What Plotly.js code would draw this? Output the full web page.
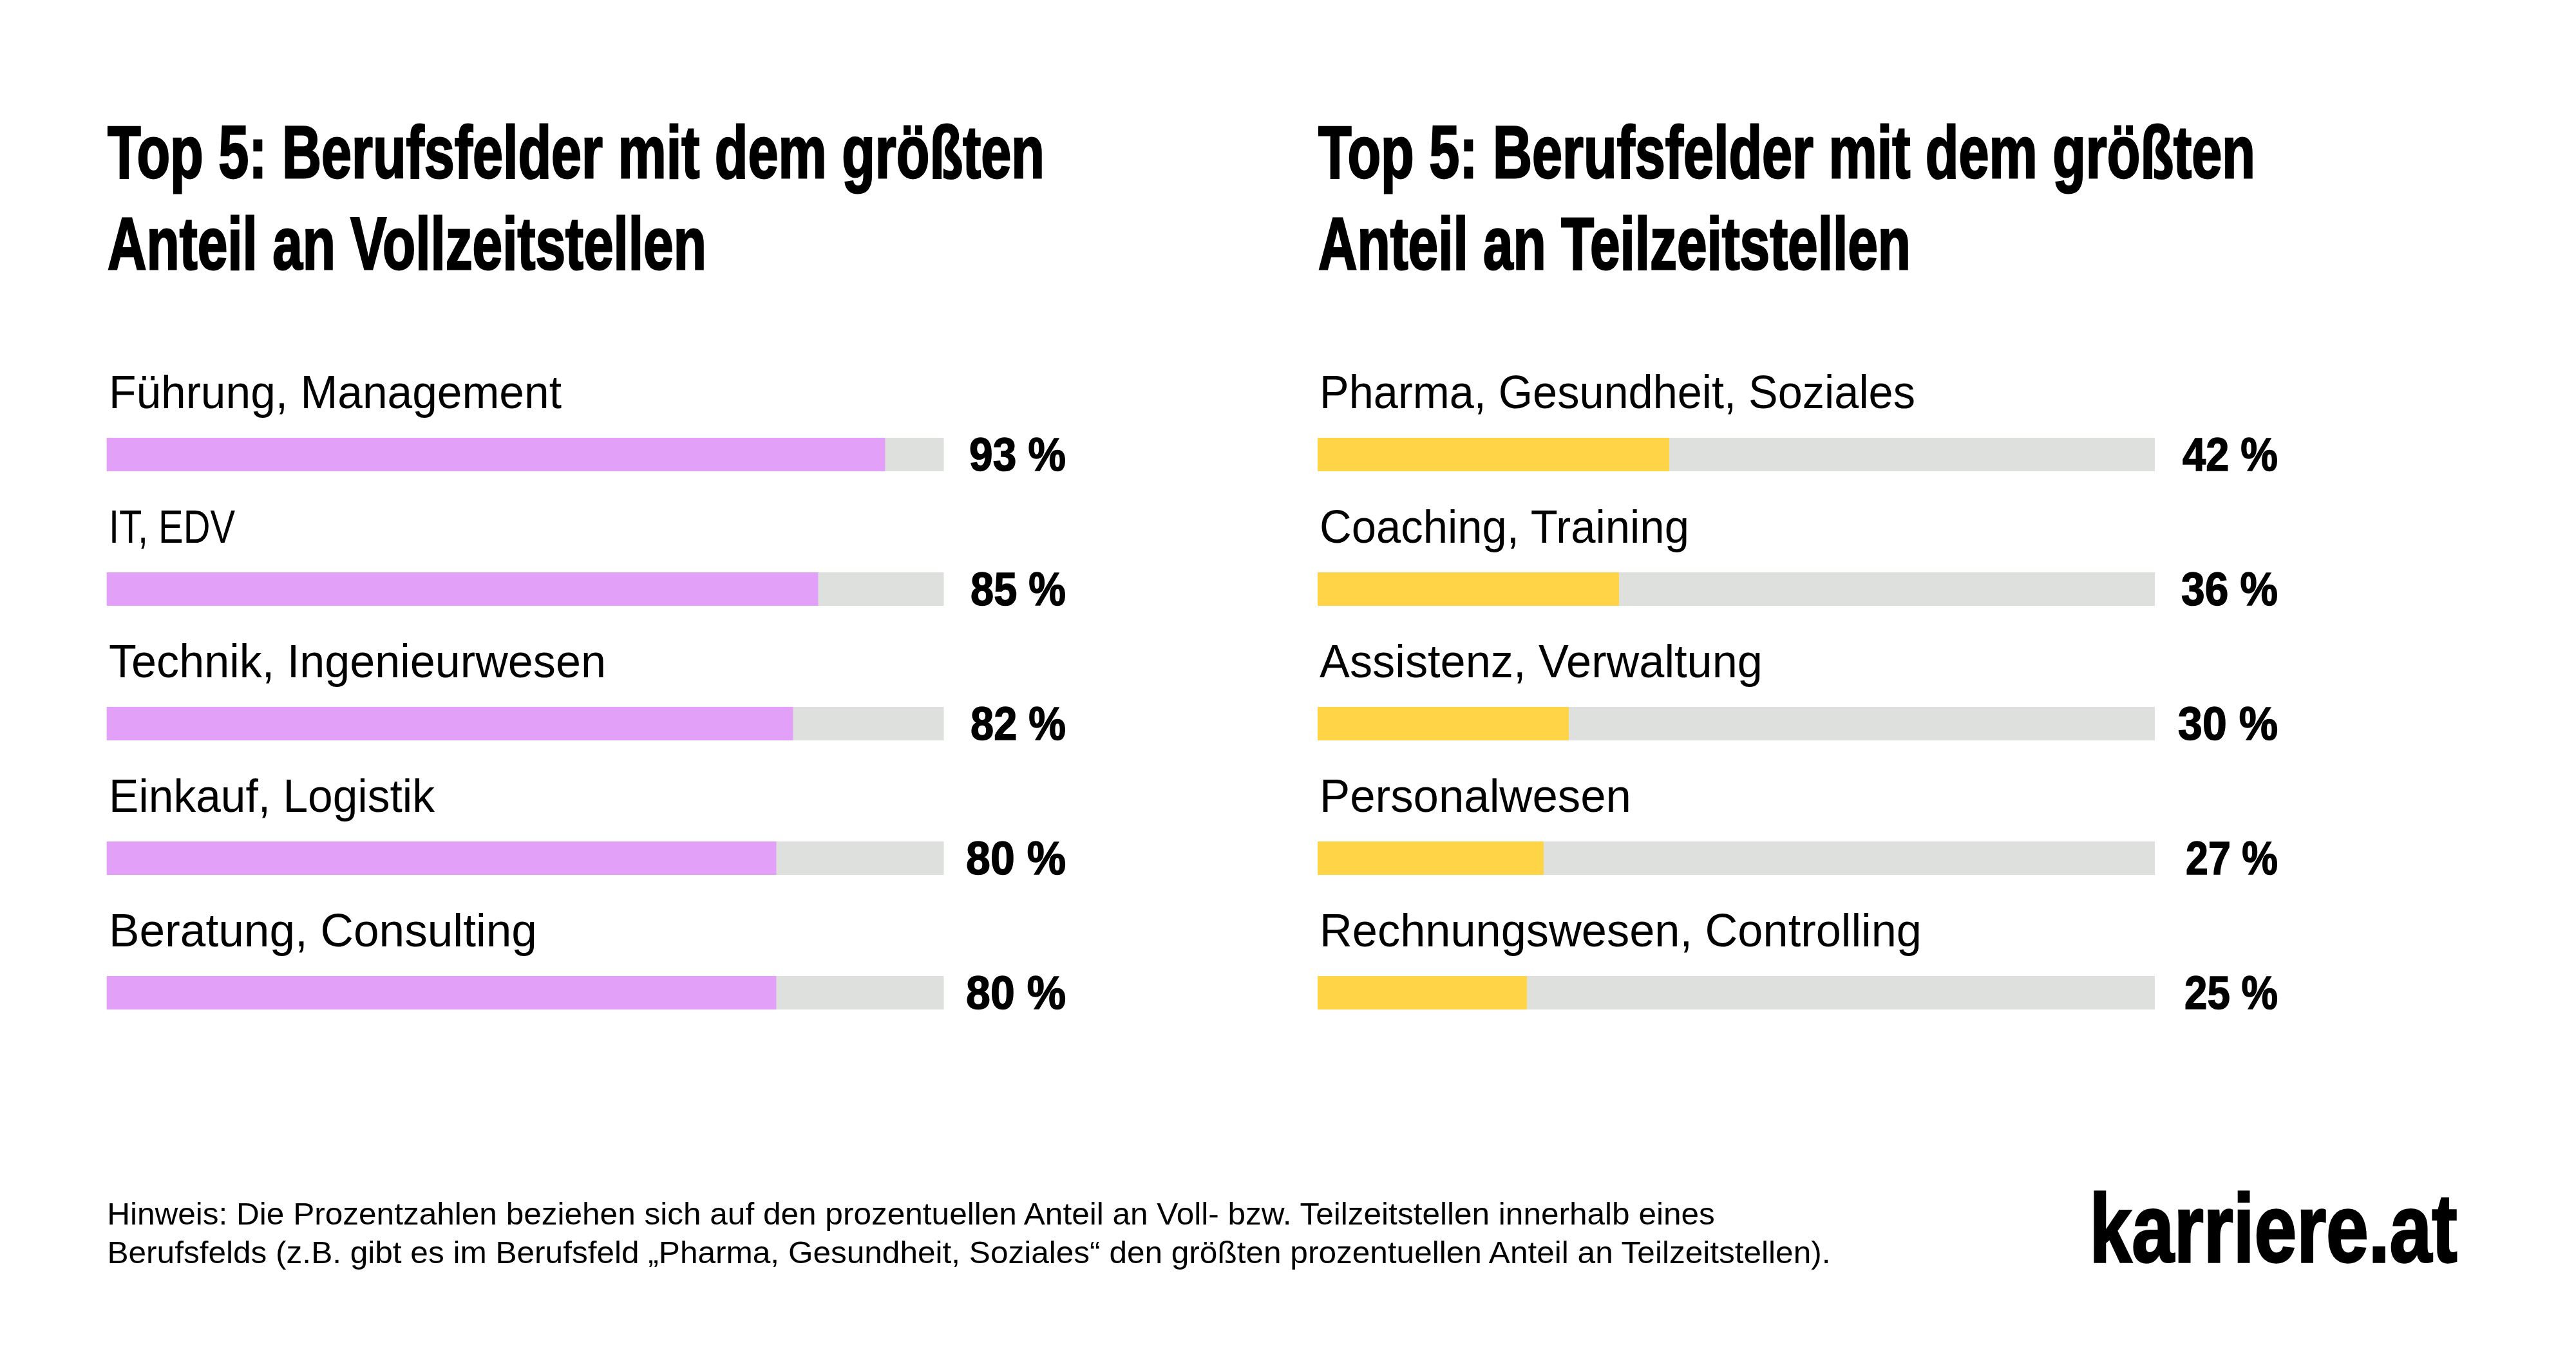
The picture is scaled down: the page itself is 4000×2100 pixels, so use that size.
<!DOCTYPE html>
<html><head><meta charset="utf-8"><script src="https://cdn.plot.ly/plotly-3.0.1.min.js"></script>
<style>html,body{margin:0;padding:0;background:#fff}</style></head><body><div id="c" style="width:4000px;height:2100px"></div>
<script>
const catsFull=["Führung, Management","IT, EDV","Technik, Ingenieurwesen","Einkauf, Logistik","Beratung, Consulting"];
const valsFull=[93,85,82,80,80];
const catsPart=["Pharma, Gesundheit, Soziales","Coaching, Training","Assistenz, Verwaltung","Personalwesen","Rechnungswesen, Controlling"];
const valsPart=[42,36,30,27,25];
const titleCommon="Top 5: Berufsfelder mit dem größten";
const titleFull="Anteil an Vollzeitstellen";
const titlePart="Anteil an Teilzeitstellen";
const noteLines=["Hinweis: Die Prozentzahlen beziehen sich auf den prozentuellen Anteil an Voll- bzw. Teilzeitstellen innerhalb eines","Berufsfelds (z.B. gibt es im Berufsfeld „Pharma, Gesundheit, Soziales“ den größten prozentuellen Anteil an Teilzeitstellen)."];
const brand="karriere.at";
// text fit widths in px (style only)
const labelFitFull=[703,196,772,507,665];
const labelFitPart=[925,574,688,484,935];
const valueFitFull=[150,148,148,155,155];
const valueFitPart=[148,150,155,143,145];
const W=4000,H=2100,pink="#E3A0F8",yellow="#FFD447",grey="#DEE0DD";
const pitch=209,plotTop=706-pitch,plotBot=plotTop+5.5*pitch;
const rows=[0,1,2,3,4];
const traces=[],ann=[],fits=[];
function add(a,fit){ann.push(a);fits.push(fit);}
function panel(cats,vals,col,xa,ya,line2,left,lf,vf,line2w,valX){
  traces.push({type:"bar",orientation:"h",x:vals.map(()=>100),y:rows,xaxis:xa,yaxis:ya,width:0.249,marker:{color:grey},hoverinfo:"skip",showlegend:false});
  traces.push({type:"bar",orientation:"h",x:vals,y:rows,xaxis:xa,yaxis:ya,width:0.249,marker:{color:col},hoverinfo:"skip",showlegend:false});
  cats.forEach((c,i)=>{
    add({xref:xa,yref:ya,x:0,y:i,xanchor:"left",yanchor:"middle",xshift:1,yshift:97,text:c,showarrow:false,font:{family:"Liberation Sans",size:72,color:"#000"}},{w:lf[i],a:"l"});
    add({xref:xa,yref:ya,x:valX,y:i,xanchor:"right",yanchor:"middle",text:vals[i]+" %",showarrow:false,font:{family:"Liberation Sans",weight:700,size:72,color:"#000"}},{w:vf[i],a:"r",s:1.5});
  });
  const tf={family:"Liberation Sans",weight:700,size:115,color:"#000"};
  add({xref:"paper",yref:"paper",x:left/W,y:1-236/H,xanchor:"left",yanchor:"middle",text:titleCommon,showarrow:false,font:tf},{w:1455,a:"l",s:2.5});
  add({xref:"paper",yref:"paper",x:left/W,y:1-378/H,xanchor:"left",yanchor:"middle",text:line2,showarrow:false,font:tf},{w:line2w,a:"l",s:2.5});
}
panel(catsFull,valsFull,pink,"x","y",titleFull,165,labelFitFull,valueFitFull,930,114.7);
panel(catsPart,valsPart,yellow,"x2","y2",titlePart,2045,labelFitPart,valueFitPart,920,114.85);
const axY=(d,a)=>({domain:d,range:[4.5,-1],visible:false,fixedrange:true,anchor:a});
const axX=(a,b,anchor)=>({domain:[a/W,b/W],range:[0,125],visible:false,anchor,fixedrange:true});
noteLines.forEach((t,i)=>add({xref:"paper",yref:"paper",x:164/W,y:1-(1885+i*60)/H,xanchor:"left",yanchor:"middle",text:t,showarrow:false,font:{family:"Liberation Sans",size:49,color:"#000"}},{w:[2497,2677][i],a:"l"}));
add({xref:"paper",yref:"paper",x:3818/W,y:1-1908/H,xanchor:"right",yanchor:"middle",text:brand,showarrow:false,font:{family:"Liberation Sans",weight:700,size:150,color:"#000"}},{w:571,a:"r",s:3});
const d=[1-plotBot/H,1-plotTop/H];
const gd=document.getElementById("c");
Plotly.newPlot(gd,traces,{width:W,height:H,margin:{l:0,r:0,t:0,b:0},paper_bgcolor:"#fff",plot_bgcolor:"#fff",barmode:"overlay",showlegend:false,
 xaxis:axX(165.5,1790.5,"y"),yaxis:axY(d,"x"),xaxis2:axX(2046,3671,"y2"),yaxis2:axY(d,"x2"),annotations:ann},{displayModeBar:false,staticPlot:true}).then(()=>{
  gd.querySelectorAll(".annotation").forEach(g=>{
    const f=fits[+g.getAttribute("data-index")],t=g.querySelector("text");
    if(!f||!t)return;
    const b0=t.getBBox(),sx=f.w/b0.width,ax=f.a==="l"?b0.x:b0.x+b0.width;
    t.setAttribute("transform",`translate(${ax},0) scale(${sx},1) translate(${-ax},0)`);
    if(f.s){t.style.stroke="#000";t.style.strokeWidth=f.s+"px";t.style.vectorEffect="non-scaling-stroke";}
    g.querySelectorAll("rect").forEach(r=>{
      const rw=parseFloat(r.getAttribute("width"))||0,rx=parseFloat(r.getAttribute("x"))||0;
      if(f.a==="r")r.setAttribute("x",rx+rw-f.w);
      r.setAttribute("width",f.w);
    });
  });
});
</script></body></html>
